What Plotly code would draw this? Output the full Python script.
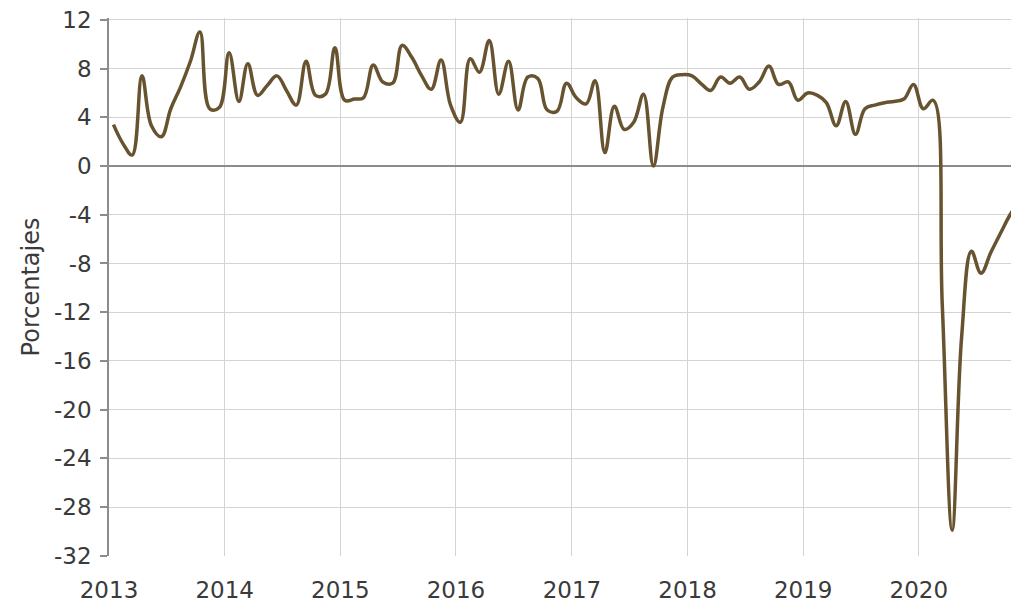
import pandas as pd
import plotly.graph_objects as go

# Monthly series, Jan 2013 - Nov 2020 (percent)
start_month = "2013-01-01"
n_months = 95
values = [
    3.4, 1.8, 0.9, 7.4, 3.3, 2.4, 4.7, 6.5, 8.6, 11.0, 4.7, 4.8,      # 2013
    9.3, 5.3, 8.4, 5.8, 6.6, 7.4, 6.2, 5.0, 8.6, 5.8, 5.9, 9.7,       # 2014
    5.4, 5.5, 5.6, 8.3, 6.9, 6.8, 9.9, 8.9, 7.4, 6.3, 8.7, 5.0,       # 2015
    3.6, 8.8, 7.7, 10.3, 5.9, 8.6, 4.6, 7.3, 7.2, 4.6, 4.5, 6.8,      # 2016
    5.6, 5.1, 7.0, 1.1, 4.9, 3.0, 3.6, 5.9, 0.0, 4.8, 7.3, 7.5,       # 2017
    7.4, 6.7, 6.2, 7.3, 6.8, 7.3, 6.3, 6.9, 8.2, 6.7, 6.9, 5.4,       # 2018
    6.0, 5.8, 5.2, 3.3, 5.3, 2.6, 4.7, 5.0, 5.2, 5.3, 5.5, 6.7,       # 2019
    4.7, 5.4, -11.5, -29.9, -14.0, -7.0, -8.8, -7.1, -5.5, -4.0, -2.8,  # 2020
]
year_ticks = ["2013", "2014", "2015", "2016", "2017", "2018", "2019", "2020"]
y_ticks = [12, 8, 4, 0, -4, -8, -12, -16, -20, -24, -28, -32]
y_title = "Porcentajes"

dates = pd.date_range(start_month, periods=n_months, freq="MS") + pd.Timedelta(days=14)

FONT = "DejaVu Sans"
TXT = "#3a3a3a"

fig = go.Figure()
fig.add_trace(go.Scatter(
    x=dates, y=values, mode="lines",
    line=dict(color="#67532f", width=3.5, shape="spline", smoothing=1.1),
    hoverinfo="x+y", showlegend=False,
))

# page body has an 8px margin, so the figure is sized to fill the rest of the window
fig.update_layout(
    width=1011, height=597,
    margin=dict(l=101, r=0, t=10, b=49),
    paper_bgcolor="white", plot_bgcolor="white",
    font=dict(family=FONT, color=TXT, size=23),
)
fig.update_xaxes(
    type="date", automargin=False,
    range=["2013-01-01", "2020-11-12"],
    tickvals=[f"{y}-01-01" for y in year_ticks],
    ticktext=year_ticks,
    showgrid=True, gridcolor="#d4d4d4", gridwidth=1,
    showline=False, zeroline=False,
    ticks="", ticklabelstandoff=18, ticklabeloverflow="allow",
    tickfont=dict(family=FONT, size=23, color=TXT),
)
fig.update_yaxes(
    range=[-32.01, 12.15], automargin=False,
    tickvals=y_ticks,
    ticktext=[str(v) for v in y_ticks],
    showgrid=True, gridcolor="#d4d4d4", gridwidth=1,
    zeroline=True, zerolinecolor="#8c8c8c", zerolinewidth=1.5,
    showline=True, linecolor="#8c8c8c", linewidth=1.5,
    ticks="outside", ticklen=7, tickcolor="#8c8c8c", tickwidth=1.5,
    ticklabelstandoff=4, ticklabeloverflow="allow",
    tickfont=dict(family=FONT, size=23, color=TXT),
    title=dict(text=y_title, font=dict(family=FONT, size=24, color=TXT), standoff=8),
)

fig.write_html("out.html")
